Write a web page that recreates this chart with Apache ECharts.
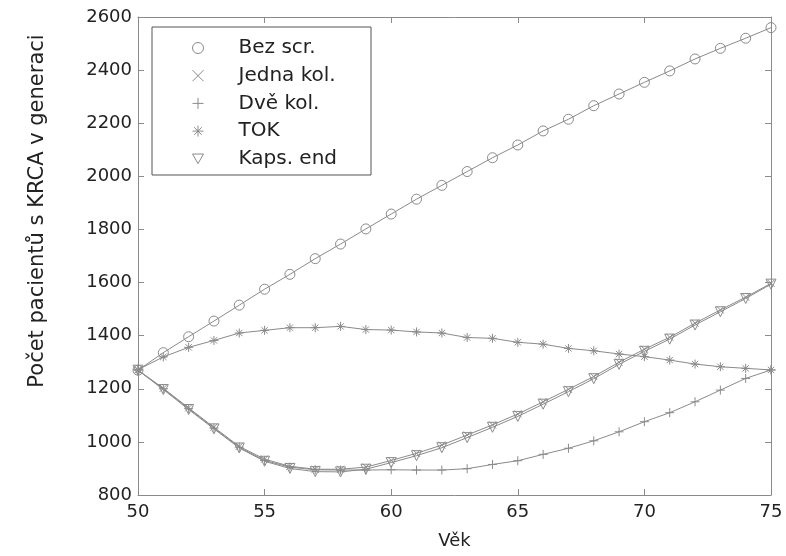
<!DOCTYPE html>
<html><head><meta charset="utf-8">
<script src="https://cdn.jsdelivr.net/npm/echarts@6/dist/echarts.min.js"></script>
<style>html,body{margin:0;padding:0;background:#fff}#c{width:786px;height:556px}</style>
</head><body><div id="c"></div>
<script>
const ages = [50,51,52,53,54,55,56,57,58,59,60,61,62,63,64,65,66,67,68,69,70,71,72,73,74,75];
const bezScr   = [1270,1336,1396,1455,1515,1575,1631,1690,1745,1802,1858,1914,1966,2018,2070,2118,2171,2215,2266,2310,2354,2397,2442,2482,2520,2560];
const jednaKol = [1270,1202,1128,1055,983,935,908,897,897,905,930,957,988,1026,1064,1105,1151,1198,1246,1300,1349,1394,1447,1497,1545,1597];
const dveKol   = [1270,1200,1125,1052,980,930,905,895,894,894,895,894,894,899,915,929,953,976,1004,1038,1076,1110,1151,1195,1239,1271];
const tok      = [1272,1320,1356,1382,1410,1420,1430,1430,1435,1423,1421,1414,1410,1393,1390,1375,1368,1352,1343,1331,1321,1308,1293,1283,1277,1271];
const kapsEnd  = [1270,1197,1122,1049,977,927,900,888,887,897,922,948,978,1016,1055,1096,1142,1189,1238,1292,1341,1387,1440,1490,1540,1594];
const seriesNames = ['Bez scr.','Jedna kol.','Dvě kol.','TOK','Kaps. end'];
const xTicks = [50,55,60,65,70,75];
const yTicks = [800,1000,1200,1400,1600,1800,2000,2200,2400,2600];

const GRAY = '#8a8a8a';
const FONT = 'DejaVu Sans';
const symbols = [
  'path://M10,5A5,5,0,1,1,0,5A5,5,0,1,1,10,5Z',
  'path://M0,0L10,10M0,10L10,0',
  'path://M5,0L5,10M0,5L10,5',
  'path://M5,0L5,10M0,5L10,5M1.5,1.5L8.5,8.5M1.5,8.5L8.5,1.5',
  'path://M0,0L10,0L5,8.66Z'
];
const sizes = [10, 7, 9, 9, 10];
const values = [bezScr, jednaKol, dveKol, tok, kapsEnd];

const chart = echarts.init(document.getElementById('c'), null, {renderer:'canvas'});
const baseX = {type:'value', min:xTicks[0], max:xTicks[xTicks.length-1], interval:5,
  axisLine:{show:true, lineStyle:{color:GRAY,width:1}},
  axisTick:{show:true, inside:true, length:6, lineStyle:{color:GRAY}},
  splitLine:{show:false}};
const baseY = {type:'value', min:yTicks[0], max:yTicks[yTicks.length-1], interval:200,
  axisLine:{show:true, lineStyle:{color:GRAY,width:1}},
  axisTick:{show:true, inside:true, length:6, lineStyle:{color:GRAY}},
  splitLine:{show:false}};

chart.setOption({
  animation:false,
  backgroundColor:'#fff',
  grid:{left:138, right:15, top:17, bottom:61, containLabel:false},
  xAxis:[
    Object.assign({}, baseX, {position:'bottom', name:'Věk', nameLocation:'middle', nameGap:37,
      nameTextStyle:{fontFamily:FONT, fontSize:18, color:'#222'},
      axisLabel:{fontFamily:FONT, fontSize:18, color:'#222', margin:8, formatter:v=>String(v)}}),
    Object.assign({}, baseX, {position:'top', axisLabel:{show:false}})
  ],
  yAxis:[
    Object.assign({}, baseY, {position:'left', name:'Počet pacientů s KRCA v generaci', nameLocation:'middle', nameGap:90,
      nameTextStyle:{fontFamily:FONT, fontSize:21, color:'#222', padding:[0,0,0,90]},
      axisLabel:{fontFamily:FONT, fontSize:18, color:'#222', margin:6, formatter:v=>String(v)}}),
    Object.assign({}, baseY, {position:'right', axisLabel:{show:false}})
  ],
  graphic:[{type:'rect', shape:{x:152, y:27, width:219, height:148}, style:{fill:'#fff', stroke:'#555', lineWidth:1}, z:50}],
  legend:{
    orient:'vertical', left:187, top:33, itemWidth:11, itemHeight:11, itemGap:7.7, z:60,
    data: seriesNames.map((n,i)=>({name:n, icon:symbols[i]})),
    itemStyle:{color:'rgba(0,0,0,0)', borderColor:GRAY, borderWidth:1},
    textStyle:{fontFamily:FONT, fontSize:20, color:'#222', padding:[0,0,0,30]}
  },
  series: seriesNames.map((n,i)=>({
    name:n, type:'line', xAxisIndex:0, yAxisIndex:0,
    data: ages.map((a,k)=>[a, values[i][k]]),
    symbol:symbols[i], symbolSize:sizes[i], showAllSymbol:true,
    lineStyle:{color:GRAY, width:1},
    itemStyle:{color:'rgba(0,0,0,0)', borderColor:GRAY, borderWidth:1},
    emphasis:{disabled:true}
  }))
});
</script></body></html>
